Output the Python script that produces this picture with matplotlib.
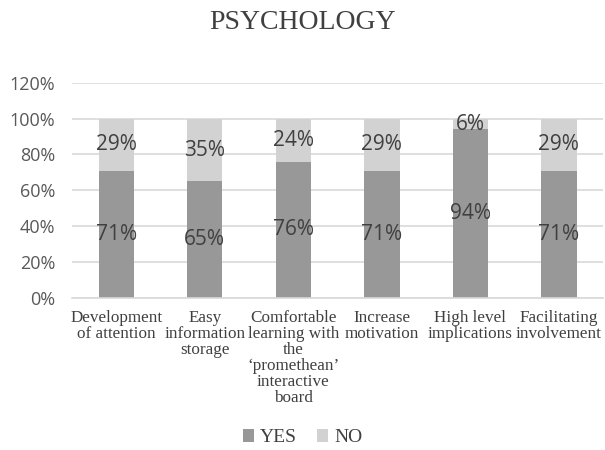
import matplotlib.pyplot as plt
import numpy as np

categories = [
    "Development\nof attention",
    "Easy\ninformation\nstorage",
    "Comfortable\nlearning with\nthe\n\u2018promethean\u2019\ninteractive\nboard",
    "Increase\nmotivation",
    "High level\nimplications",
    "Facilitating\ninvolvement",
]
yes_vals = [71, 65, 76, 71, 94, 71]
no_vals = [29, 35, 24, 29, 6, 29]
yticks = [0, 20, 40, 60, 80, 100, 120]

YES_COLOR = "#989898"
NO_COLOR = "#d2d2d2"
TEXT = "#404040"
SANS = "Open Sans"
SERIF = "Liberation Serif"

fig = plt.figure(figsize=(6.05, 4.5), dpi=100)
ax = fig.add_axes([0.119, 0.338, 0.878, 0.478])

x = np.arange(len(categories))
yes = np.array(yes_vals) / 100.0
no = np.array(no_vals) / 100.0
ax.bar(x, yes, width=0.4, color=YES_COLOR, label="YES", zorder=2)
ax.bar(x, no, width=0.4, bottom=yes, color=NO_COLOR, label="NO", zorder=2)

for i in range(len(x)):
    ax.text(x[i], yes[i] / 2, f"{yes_vals[i]}%", ha="center", va="center",
            fontsize=15, color=TEXT, family=SANS, zorder=3)
    ax.text(x[i], yes[i] + no[i] / 2, f"{no_vals[i]}%", ha="center", va="center",
            fontsize=15, color=TEXT, family=SANS, zorder=3)

ax.set_xlim(-0.5, len(x) - 0.5)
ax.set_ylim(0, 1.2)
ax.set_yticks([t / 100 for t in yticks])
ax.set_yticklabels([f"{t}%" for t in yticks], family=SANS, fontsize=13, color="#595959")
ax.yaxis.grid(True, color="#d9d9d9", linewidth=1.2, zorder=0)
ax.tick_params(axis="both", length=0)
ax.tick_params(axis="y", pad=12)
ax.tick_params(axis="x", pad=9)
ax.set_xticks(x)
ax.set_xticklabels(categories, family=SERIF, fontsize=12.3, color=TEXT, linespacing=1.0)
for s in ax.spines.values():
    s.set_visible(False)
ax.spines["bottom"].set_visible(True)
ax.spines["bottom"].set_color("#d9d9d9")
ax.spines["bottom"].set_linewidth(1.2)

fig.text(0.5, 0.95, "PSYCHOLOGY", ha="center", va="center", family=SERIF,
         fontsize=20, color=TEXT)

fig.legend(loc="center", bbox_to_anchor=(0.5, 0.027), ncol=2, frameon=False,
           prop={"family": SERIF, "size": 14}, handlelength=0.6, handleheight=0.6,
           handletextpad=0.3, columnspacing=1.0, labelcolor=TEXT)

fig.savefig("out.png", dpi=100)
